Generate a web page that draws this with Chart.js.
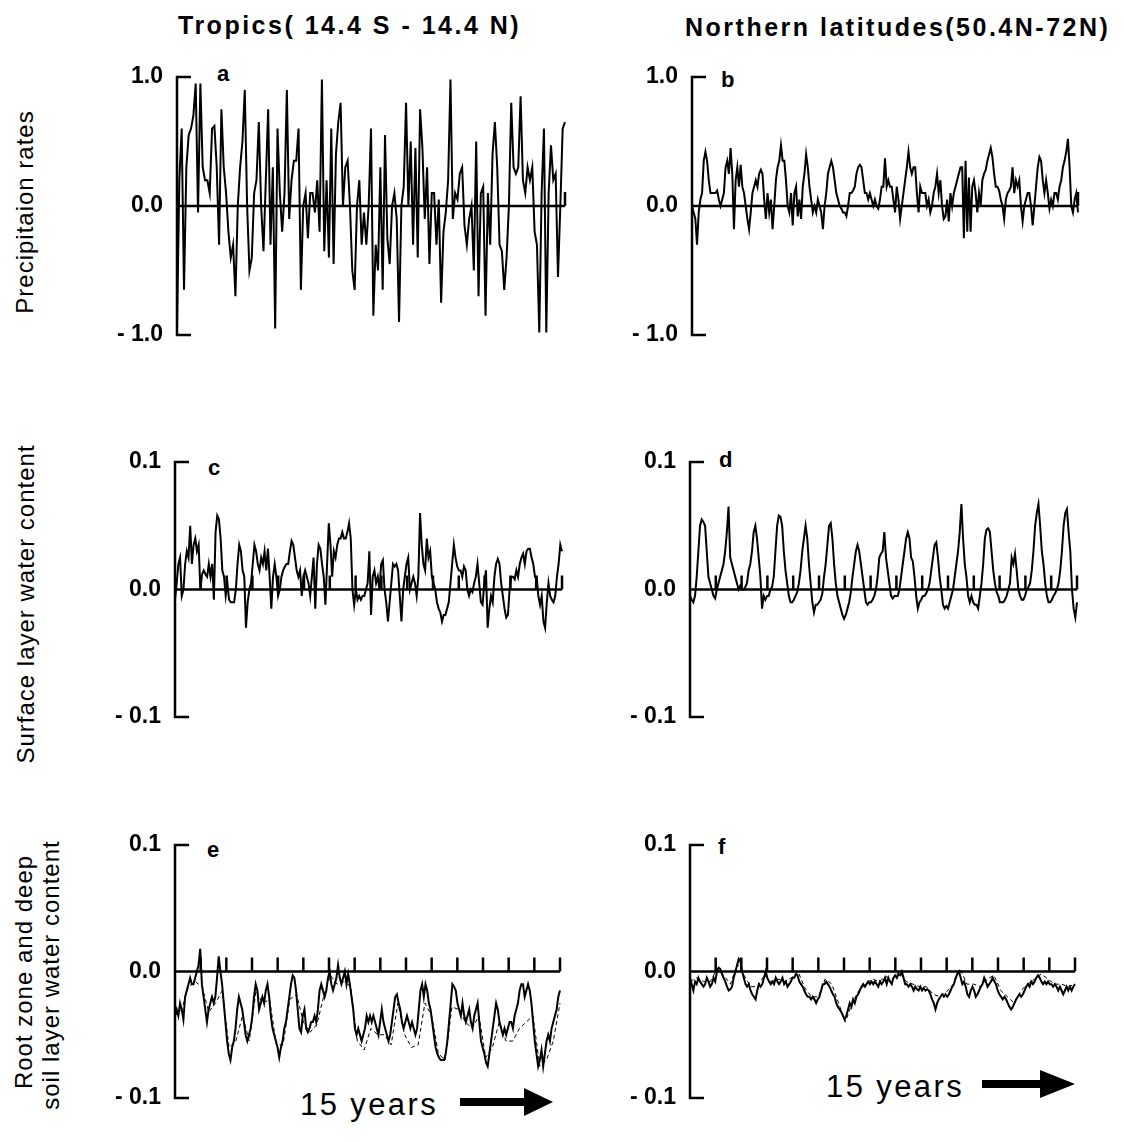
<!DOCTYPE html>
<html>
<head>
<meta charset="utf-8">
<script src="https://cdn.jsdelivr.net/npm/chart.js@4.4.1/dist/chart.umd.min.js"></script>
<style>
    body { margin: 0; background: #fff; }
    #page { position: relative; width: 1124px; height: 1142px; background: #fff; overflow: hidden;
            font-family: "Liberation Sans", Arial, Helvetica, sans-serif; color: #000; }
    #page canvas { position: absolute; }
    .titre { position: absolute; font-weight: bold; font-size: 25px; letter-spacing: 2.5px; white-space: nowrap; line-height: 25px; }
    .ylab { position: absolute; font-size: 24px; letter-spacing: 1px; white-space: nowrap; line-height: 24px;
            transform: translate(-50%, -50%) rotate(-90deg); }
    .lettre { position: absolute; font-weight: bold; font-size: 22px; line-height: 22px; }
    .annees { position: absolute; font-size: 31px; letter-spacing: 2.4px; white-space: nowrap; line-height: 31px; }
    svg { position: absolute; left: 0; top: 0; }
</style>
</head>
<body>
<div id="page">
    <div class="titre" style="left:178px; top:13px;">Tropics( 14.4 S - 14.4 N)</div>
    <div class="titre" style="left:685px; top:15px;">Northern latitudes(50.4N-72N)</div>

    <div class="ylab" style="left:25px; top:212px;">Precipitaion rates</div>
    <div class="ylab" style="left:26px; top:604px;">Surface layer water content</div>
    <div class="ylab" style="left:24px; top:972px;">Root zone and deep</div>
    <div class="ylab" style="left:51px; top:975px;">soil layer water content</div>

    <div class="lettre" style="left:217px; top:63px;">a</div>
    <div class="lettre" style="left:721px; top:69px;">b</div>
    <div class="lettre" style="left:208px; top:457px;">c</div>
    <div class="lettre" style="left:719px; top:449px;">d</div>
    <div class="lettre" style="left:207px; top:839px;">e</div>
    <div class="lettre" style="left:718px; top:836px;">f</div>

    <div class="annees" style="left:300px; top:1089px;">15 years</div>
    <div class="annees" style="left:826px; top:1071px;">15 years</div>

    <svg width="1124" height="1142">
        <polygon points="460,1098 524,1098 524,1088 553,1102 524,1116 524,1106 460,1106" fill="#000"/>
        <polygon points="982,1080 1040,1080 1040,1070 1075,1084 1040,1098 1040,1088 982,1088" fill="#000"/>
    </svg>
</div>

<script>
// ====== données ======
const nbAnnees = 15;
const ticksAnnees = [1, 2, 3, 4, 5, 6, 7, 8, 9, 10, 11, 12, 13, 14, 15];
const ticksPrecip = [-1, 0, 1];
const ticksEau = [-0.1, 0, 0.1];

// a : précipitations, tropiques
const precipTropiques = [
    -0.95, 0.2, 0.6, -0.65, 0.3, 0.55, 0.6, 0.7, 0.95, -0.05,
    0.95, 0.3, 0.2, 0.2, 0.1, 0.6, 0.62, 0.3, -0.3, 0.75,
    0.3, 0.1, -0.2, -0.4, -0.3, -0.7, 0.0, 0.3, 0.5, 0.9,
    0.0, -0.5, -0.4, 0.1, 0.2, 0.65, 0.0, -0.35, 0.2, 0.75,
    -0.3, 0.3, -0.95, 0.6, 0.1, -0.2, 0.1, 0.9, -0.1, 0.2,
    0.35, 0.35, 0.6, -0.65, 0.0, 0.1, -0.25, 0.1, 0.1, -0.05,
    0.2, -0.2, 0.98, -0.35, 0.2, -0.4, 0.6, -0.45, 0.4, 0.65,
    0.8, 0.0, 0.3, 0.35, 0.0, -0.5, -0.65, 0.0, 0.2, -0.3,
    -0.05, -0.3, 0.0, 0.6, -0.85, -0.3, -0.5, 0.3, -0.65, 0.55,
    -0.25, -0.45, 0.0, 0.1, -0.1, -0.9, 0.0, 0.15, 0.8, 0.0,
    0.5, -0.3, 0.45, -0.4, 0.75, 0.45, -0.1, 0.3, -0.45, 0.1,
    0.1, -0.3, 0.05, -0.75, -0.2, -0.05, 0.2, 0.98, -0.1, 0.1,
    0.05, 0.25, 0.3, -0.15, -0.3, -0.1, 0.0, -0.5, 0.5, -0.7,
    0.1, 0.15, -0.85, 0.1, -0.3, 0.4, 0.65, 0.3, -0.3, -0.35,
    -0.65, -0.4, 0.0, 0.8, 0.3, 0.25, 0.3, 0.85, 0.2, 0.1,
    0.3, 0.2, 0.3, -0.2, -0.3, -0.98, 0.1, 0.6, -0.98, 0.1,
    0.47, 0.2, 0.25, -0.55, 0.0, 0.6, 0.65
];

// b : précipitations, latitudes nord
const precipNord = [
    0.0, -0.05, -0.1, -0.3, -0.05, 0.05, 0.1, 0.35, 0.42, 0.35,
    0.2, 0.1, 0.1, 0.1, 0.1, 0.12, 0.05, 0.0, 0.05, 0.1,
    0.3, 0.35, 0.25, 0.45, 0.25, -0.18, 0.2, 0.3, 0.15, 0.32,
    0.15, 0.1, 0.0, -0.1, -0.18, -0.05, 0.1, 0.15, 0.2, 0.15,
    0.25, 0.28, 0.25, 0.05, -0.1, 0.1, -0.05, 0.05, -0.18, 0.0,
    0.2, 0.3, 0.35, 0.47, 0.35, 0.35, 0.2, 0.0, -0.05, 0.1,
    -0.15, 0.1, 0.15, -0.08, 0.05, -0.1, 0.15, 0.25, 0.4, 0.3,
    0.15, 0.05, -0.05, 0.0, -0.05, 0.05, 0.0, -0.05, -0.18, 0.0,
    0.1, 0.25, 0.3, 0.35, 0.3, 0.2, 0.1, 0.05, 0.0, -0.02,
    -0.05, -0.05, -0.08, 0.0, 0.1, 0.1, 0.12, 0.15, 0.25, 0.3,
    0.32, 0.3, 0.2, 0.1, 0.1, 0.05, 0.1, 0.05, 0.0, 0.05,
    0.0, -0.02, 0.05, 0.15, 0.15, 0.37, 0.15, 0.2, 0.15, 0.15,
    0.05, -0.05, 0.15, 0.05, -0.1, 0.0, 0.1, 0.2, 0.3, 0.42,
    0.3, 0.25, 0.3, 0.3, 0.1, -0.05, 0.15, 0.1, 0.1, 0.1,
    0.0, 0.05, -0.05, 0.0, 0.1, 0.15, 0.25, 0.1, 0.2, 0.0,
    -0.1, -0.08, 0.05, -0.12, 0.1, 0.0, 0.1, 0.15, 0.2, 0.25,
    0.3, 0.3, -0.25, 0.35, -0.2, 0.22, -0.2, 0.15, 0.2, 0.1,
    -0.05, 0.1, 0.0, 0.2, 0.25, 0.28, 0.35, 0.4, 0.45, 0.38,
    0.25, 0.15, 0.15, 0.12, 0.05, 0.0, -0.1, 0.05, 0.1, 0.12,
    0.15, 0.3, 0.1, 0.2, 0.15, 0.2, 0.0, -0.12, 0.0, 0.05,
    0.1, 0.1, 0.0, -0.15, 0.0, 0.15, 0.3, 0.38, 0.35, 0.2,
    0.1, 0.2, 0.1, -0.02, 0.05, 0.0, 0.1, 0.1, 0.05, 0.15,
    0.2, 0.3, 0.35, 0.42, 0.52, 0.3, 0.0, -0.05, 0.05, 0.1,
    -0.05
];

// c : eau couche de surface, tropiques
const surfaceTropiques = [
    -0.008, 0.005, 0.02, 0.025, -0.005, 0.0, 0.02, 0.03, 0.025, 0.05,
    0.02, 0.035, 0.04, 0.03, 0.035, 0.0, 0.012, 0.015, 0.012, 0.01,
    0.02, 0.01, 0.02, -0.008, 0.045, 0.058, 0.055, 0.04, 0.015, 0.01,
    -0.005, 0.005, -0.008, -0.01, -0.01, -0.01, 0.0, 0.02, 0.035, 0.03,
    0.015, 0.01, -0.03, -0.01, 0.0, 0.005, 0.02, 0.035, 0.03, 0.02,
    0.015, 0.025, 0.02, 0.03, 0.015, 0.032, 0.01, -0.015, 0.01, 0.02,
    0.01, -0.005, 0.0, 0.01, 0.015, 0.018, 0.02, 0.02, 0.03, 0.038,
    0.035, 0.025, 0.015, 0.01, 0.015, -0.005, 0.01, 0.015, 0.01, 0.005,
    -0.005, 0.01, 0.025, -0.015, 0.02, 0.035, 0.032, 0.02, 0.01, -0.012,
    0.02, 0.052, 0.035, 0.01, 0.03, 0.025, 0.035, 0.04, 0.04, 0.045,
    0.04, 0.04, 0.045, 0.052, 0.04, 0.0, -0.012, 0.0, -0.008, -0.005,
    -0.008, -0.005, -0.005, 0.0, 0.005, 0.03, -0.02, 0.01, 0.015, 0.005,
    0.01, 0.0, 0.02, 0.023, 0.0, -0.01, -0.025, -0.01, 0.005, 0.02,
    0.018, 0.02, 0.015, -0.005, -0.025, 0.0, 0.01, 0.02, 0.025, 0.0,
    0.005, 0.01, 0.005, -0.005, 0.01, 0.06, 0.035, 0.02, 0.015, 0.04,
    0.025, 0.03, 0.01, 0.005, 0.0, -0.01, -0.015, -0.018, -0.025, -0.02,
    -0.02, -0.015, -0.01, 0.005, 0.02, 0.035, 0.025, 0.018, 0.015, 0.015,
    0.01, 0.018, 0.015, 0.0, -0.005, 0.0, -0.002, 0.005, 0.01, 0.02,
    0.005, -0.01, -0.012, 0.005, 0.015, -0.03, -0.015, -0.005, -0.01, 0.01,
    0.02, 0.024, 0.02, 0.005, -0.005, -0.015, -0.022, -0.02, 0.0, 0.01,
    0.01, 0.008, 0.015, 0.01, 0.02, 0.025, 0.028, 0.02, 0.03, 0.032,
    0.032, 0.025, 0.02, 0.01, 0.01, -0.005, -0.012, -0.005, -0.025, -0.03,
    -0.01, 0.005, -0.005, -0.008, -0.01, -0.005, 0.01, 0.02, 0.035, 0.03
];

// d : eau couche de surface, latitudes nord
const surfaceNord = [
    -0.005, -0.008, -0.01, -0.005, 0.01, 0.03, 0.05, 0.055, 0.053, 0.05,
    0.03, 0.01, 0.005, 0.0, -0.005, -0.007, 0.0, 0.005, 0.01, 0.015,
    0.02, 0.03, 0.045, 0.065, 0.025, 0.02, 0.015, 0.01, 0.005, 0.0,
    0.003, 0.0, 0.0, 0.002, 0.005, 0.015, 0.02, 0.03, 0.045, 0.05,
    0.04, 0.025, 0.01, -0.015, -0.005, -0.008, -0.005, -0.005, 0.0, 0.002,
    0.01, 0.03, 0.05, 0.058, 0.057, 0.05, 0.03, 0.015, 0.005, -0.005,
    -0.01, -0.01, -0.008, -0.005, -0.002, 0.005, 0.015, 0.03, 0.04, 0.05,
    0.04, 0.02, 0.005, -0.01, -0.018, -0.012, -0.012, -0.01, -0.008, -0.003,
    0.01, 0.02, 0.035, 0.05, 0.052, 0.04, 0.02, 0.005, -0.005, -0.01,
    -0.015, -0.02, -0.023, -0.02, -0.015, -0.01, -0.002, 0.01, 0.02, 0.03,
    0.035, 0.03, 0.02, 0.01, 0.0, -0.01, -0.012, -0.01, -0.01, -0.008,
    -0.005, 0.0, 0.01, 0.025, 0.028, 0.03, 0.045, 0.025, 0.015, 0.005,
    -0.005, -0.007, -0.005, -0.005, -0.005, 0.0, 0.01, 0.02, 0.03, 0.04,
    0.045, 0.04, 0.025, 0.022, 0.01, -0.005, -0.015, -0.01, -0.008, -0.005,
    -0.005, -0.003, 0.0, 0.005, 0.015, 0.025, 0.035, 0.037, 0.025, 0.01,
    0.0, -0.012, -0.015, -0.013, -0.015, -0.01, -0.005, 0.0, 0.01, 0.02,
    0.03, 0.045, 0.067, 0.04, 0.02, 0.01, -0.005, -0.01, -0.005, -0.01,
    -0.012, -0.012, -0.015, -0.005, 0.005, 0.02, 0.04, 0.047, 0.048, 0.045,
    0.03, 0.015, 0.005, -0.002, -0.005, -0.01, -0.01, -0.01, -0.008, -0.005,
    0.0, 0.005, 0.025, 0.02, 0.028, 0.015, 0.0, -0.005, -0.008, -0.008,
    -0.005, 0.0, 0.002, 0.005, 0.015, 0.03, 0.05, 0.06, 0.067, 0.05,
    0.03, 0.02, 0.005, -0.005, -0.01, -0.01, -0.008, -0.005, -0.003, 0.0,
    0.005, 0.015, 0.03, 0.05, 0.06, 0.063, 0.045, 0.03, 0.0, -0.015,
    -0.022, -0.01
];

// e : zone racinaire (trait plein) et sol profond (tirets), tropiques
const racineTropiques = [
    -0.035, -0.03, -0.035, -0.025, -0.03, -0.038, -0.02, -0.015, -0.01, -0.005,
    -0.01, -0.01, -0.005, 0.0, 0.005, 0.018, -0.01, -0.02, -0.03, -0.04,
    -0.03, -0.025, -0.02, -0.025, -0.02, -0.005, 0.012, 0.0, -0.01, -0.025,
    -0.04, -0.055, -0.065, -0.07, -0.06, -0.055, -0.045, -0.03, -0.02, -0.025,
    -0.03, -0.04, -0.05, -0.055, -0.05, -0.045, -0.035, -0.02, -0.01, -0.015,
    -0.03, -0.025, -0.02, -0.025, -0.015, -0.01, -0.02, -0.035, -0.045, -0.05,
    -0.055, -0.06, -0.068, -0.06, -0.055, -0.045, -0.04, -0.03, -0.02, -0.01,
    -0.003, -0.005, -0.015, -0.03, -0.045, -0.048, -0.035, -0.03, -0.045, -0.048,
    -0.045, -0.04, -0.04, -0.035, -0.04, -0.03, -0.015, -0.01, -0.015, -0.02,
    -0.015, -0.005, 0.0, -0.01, -0.015, -0.01, -0.005, 0.005, -0.005, -0.01,
    -0.005, 0.0, -0.01, -0.002, -0.01, -0.02, -0.03, -0.045, -0.05, -0.045,
    -0.05, -0.055, -0.05, -0.045, -0.035, -0.04, -0.035, -0.04, -0.035, -0.04,
    -0.045, -0.05, -0.04, -0.03, -0.04, -0.045, -0.05, -0.055, -0.05, -0.04,
    -0.03, -0.02, -0.018, -0.025, -0.03, -0.04, -0.045, -0.04, -0.035, -0.04,
    -0.045, -0.04, -0.045, -0.05, -0.045, -0.03, -0.015, -0.01, -0.02, -0.01,
    -0.015, -0.025, -0.03, -0.04, -0.05, -0.06, -0.065, -0.068, -0.07, -0.07,
    -0.07, -0.065, -0.055, -0.04, -0.025, -0.01, -0.012, -0.015, -0.025, -0.03,
    -0.035, -0.025, -0.035, -0.04, -0.035, -0.03, -0.04, -0.045, -0.035, -0.03,
    -0.025, -0.04, -0.055, -0.06, -0.065, -0.072, -0.075, -0.065, -0.055, -0.045,
    -0.035, -0.025, -0.03, -0.04, -0.045, -0.05, -0.045, -0.05, -0.045, -0.04,
    -0.04, -0.045, -0.035, -0.03, -0.025, -0.015, -0.01, -0.01, -0.02, -0.015,
    -0.01, -0.015, -0.025, -0.04, -0.055, -0.065, -0.075, -0.07, -0.062, -0.075,
    -0.065, -0.055, -0.05, -0.055, -0.045, -0.04, -0.035, -0.03, -0.02, -0.015
];
const solProfondTropiques = [
    -0.035, -0.03, -0.012, -0.008, -0.012, -0.032, -0.025, -0.015, -0.06, -0.055,
    -0.035, -0.055, -0.015, -0.025, -0.022, -0.058, -0.058, -0.022, -0.018, -0.04,
    -0.048, -0.042, -0.02, -0.003, -0.01, -0.008, -0.012, -0.055, -0.062, -0.045,
    -0.05, -0.05, -0.058, -0.025, -0.05, -0.06, -0.058, -0.025, -0.035, -0.065,
    -0.07, -0.028, -0.03, -0.04, -0.045, -0.035, -0.068, -0.06, -0.04, -0.055,
    -0.055, -0.045, -0.04, -0.035, -0.075, -0.07, -0.055, -0.025
];

// f : zone racinaire (trait plein) et sol profond (tirets), latitudes nord
const racineNord = [
    -0.005, -0.01, -0.015, -0.008, -0.01, -0.005, -0.008, -0.01, -0.012, -0.01,
    -0.005, -0.008, -0.012, -0.01, -0.005, -0.008, 0.0, 0.003, 0.002, -0.002,
    -0.005, -0.008, -0.012, -0.015, -0.014, -0.012, -0.005, 0.0, 0.005, 0.01,
    0.008, 0.0, -0.005, -0.01, -0.012, -0.01, -0.015, -0.018, -0.02, -0.022,
    -0.015, -0.01, -0.012, -0.01, -0.005, 0.0, -0.005, -0.008, -0.01, -0.008,
    -0.01, -0.005, -0.008, -0.01, -0.008, -0.005, -0.01, -0.008, -0.012, -0.01,
    -0.008, -0.005, -0.005, -0.002, -0.003, -0.008, -0.01, -0.012, -0.015, -0.018,
    -0.02, -0.02, -0.022, -0.02, -0.022, -0.025, -0.022, -0.02, -0.015, -0.01,
    -0.01, -0.008, -0.01, -0.012, -0.015, -0.018, -0.02, -0.025, -0.028, -0.03,
    -0.032, -0.035, -0.038, -0.035, -0.03, -0.025, -0.028, -0.022, -0.025, -0.02,
    -0.018, -0.015, -0.012, -0.01, -0.012, -0.01, -0.008, -0.01, -0.008, -0.01,
    -0.008, -0.01, -0.012, -0.008, -0.01, -0.008, -0.005, -0.01, -0.005, -0.008,
    -0.01, -0.005, -0.003, -0.005, -0.002, -0.003, 0.0, -0.005, -0.01, -0.01,
    -0.012, -0.01, -0.012, -0.015, -0.012, -0.014, -0.015, -0.012, -0.015, -0.013,
    -0.015, -0.014, -0.015, -0.018, -0.022, -0.025, -0.03, -0.025, -0.022, -0.02,
    -0.018, -0.02, -0.018, -0.02, -0.018, -0.015, -0.012, -0.01, -0.005, -0.002,
    0.0, -0.005, -0.01, -0.008, -0.012, -0.018, -0.02, -0.015, -0.012, -0.015,
    -0.02, -0.018, -0.015, -0.012, -0.01, -0.005, -0.008, -0.012, -0.01, -0.008,
    -0.005, -0.008, -0.01, -0.015, -0.018, -0.02, -0.022, -0.02, -0.022, -0.025,
    -0.028, -0.03, -0.028, -0.025, -0.022, -0.02, -0.018, -0.02, -0.018, -0.015,
    -0.012, -0.01, -0.012, -0.008, -0.01, -0.008, -0.005, -0.003, -0.005, -0.008,
    -0.01, -0.008, -0.01, -0.008, -0.01, -0.01, -0.012, -0.01, -0.012, -0.015,
    -0.012, -0.015, -0.018, -0.015, -0.012, -0.015, -0.012, -0.015, -0.012, -0.01
];
const solProfondNord = [
    -0.008, -0.005, -0.008, -0.008, 0.002, -0.003, -0.01, 0.006, -0.003, -0.012,
    -0.012, -0.003, -0.008, -0.006, -0.008, -0.005, 0.0, -0.013, -0.02, -0.02,
    -0.006, -0.01, -0.025, -0.04, -0.025, -0.015, -0.01, -0.006, -0.008, -0.004,
    -0.006, 0.0, -0.008, -0.01, -0.012, -0.012, -0.018, -0.02, -0.016, -0.01,
    0.002, -0.01, -0.01, -0.012, -0.006, -0.003, -0.015, -0.02, -0.025, -0.015,
    -0.01, -0.006, -0.002, -0.006, -0.01, -0.01, -0.012, -0.01
];

// ====== mise en page ======
const page = document.getElementById('page');
const largeurAxe = 60;
const marge = 16;

// cadre : axe vertical en crochet, ligne du zéro et repères annuels
const cadrePlugin = {
    id: 'cadre',
    afterDatasetsDraw(chart, args, opts) {
        const { ctx, chartArea: a, scales: { x, y } } = chart;
        const y0 = y.getPixelForValue(0);
        const reperes = opts.tousLesAns ? ticksAnnees : [nbAnnees];
        ctx.save();
        ctx.strokeStyle = '#000';
        ctx.lineWidth = 2.5;
        ctx.beginPath();
        ctx.moveTo(a.left + 14, a.top);
        ctx.lineTo(a.left, a.top);
        ctx.lineTo(a.left, a.bottom);
        ctx.lineTo(a.left + 14, a.bottom);
        ctx.moveTo(a.left, y0);
        ctx.lineTo(a.right, y0);
        reperes.forEach(t => {
            const px = x.getPixelForValue(t);
            ctx.moveTo(px, y0);
            ctx.lineTo(px, y0 - 14);
        });
        ctx.stroke();
        ctx.restore();
    }
};

function formatTick(v) {
    if (v === 0) return '0.0';
    if (v < 0) return '- ' + Math.abs(v).toFixed(1);
    return v.toFixed(1);
}

function serie(valeurs) {
    return valeurs.map((v, i) => ({ x: i * nbAnnees / (valeurs.length - 1), y: v }));
}

function creerPanneau(boite, ticksY, tousLesAns, plein, tirets) {
    const canvas = document.createElement('canvas');
    const w = largeurAxe + (boite.right - boite.left) + 8;
    const h = (boite.bottom - boite.top) + 2 * marge;
    canvas.width = w;
    canvas.height = h;
    canvas.style.width = w + 'px';
    canvas.style.height = h + 'px';
    canvas.style.left = (boite.left - largeurAxe) + 'px';
    canvas.style.top = (boite.top - marge) + 'px';
    page.appendChild(canvas);

    const datasets = [];
    if (tirets) {
        datasets.push({
            data: serie(tirets),
            borderColor: '#000',
            borderWidth: 1,
            borderDash: [4, 3],
            pointRadius: 0,
            tension: 0,
            clip: false
        });
    }
    datasets.push({
        data: serie(plein),
        borderColor: '#000',
        borderWidth: 2,
        pointRadius: 0,
        tension: 0,
        clip: false
    });

    new Chart(canvas, {
        type: 'line',
        data: { datasets: datasets },
        options: {
            responsive: false,
            animation: false,
            layout: { padding: { top: marge, bottom: marge, left: 0, right: 8 } },
            plugins: {
                legend: { display: false },
                tooltip: { enabled: false },
                cadre: { tousLesAns: tousLesAns }
            },
            scales: {
                x: { type: 'linear', min: 0, max: nbAnnees, display: false },
                y: {
                    min: ticksY[0],
                    max: ticksY[ticksY.length - 1],
                    afterBuildTicks: scale => { scale.ticks = ticksY.map(v => ({ value: v })); },
                    afterFit: scale => {
                        scale.width = largeurAxe;
                        scale.paddingTop = 0;
                        scale.paddingBottom = 0;
                    },
                    grid: { display: false, drawTicks: false },
                    border: { display: false },
                    ticks: {
                        padding: 14,
                        color: '#000',
                        font: { family: '"Liberation Sans", Arial, sans-serif', size: 23, weight: 'bold' },
                        callback: v => formatTick(v)
                    }
                }
            }
        },
        plugins: [cadrePlugin]
    });
}

creerPanneau({ left: 177, right: 565, top: 77, bottom: 335 }, ticksPrecip, false, precipTropiques);
creerPanneau({ left: 692, right: 1078, top: 77, bottom: 335 }, ticksPrecip, false, precipNord);
creerPanneau({ left: 175, right: 562, top: 462, bottom: 717 }, ticksEau, true, surfaceTropiques);
creerPanneau({ left: 690, right: 1077, top: 462, bottom: 717 }, ticksEau, true, surfaceNord);
creerPanneau({ left: 175, right: 560, top: 845, bottom: 1098 }, ticksEau, true, racineTropiques, solProfondTropiques);
creerPanneau({ left: 690, right: 1075, top: 845, bottom: 1098 }, ticksEau, true, racineNord, solProfondNord);
</script>
</body>
</html>
